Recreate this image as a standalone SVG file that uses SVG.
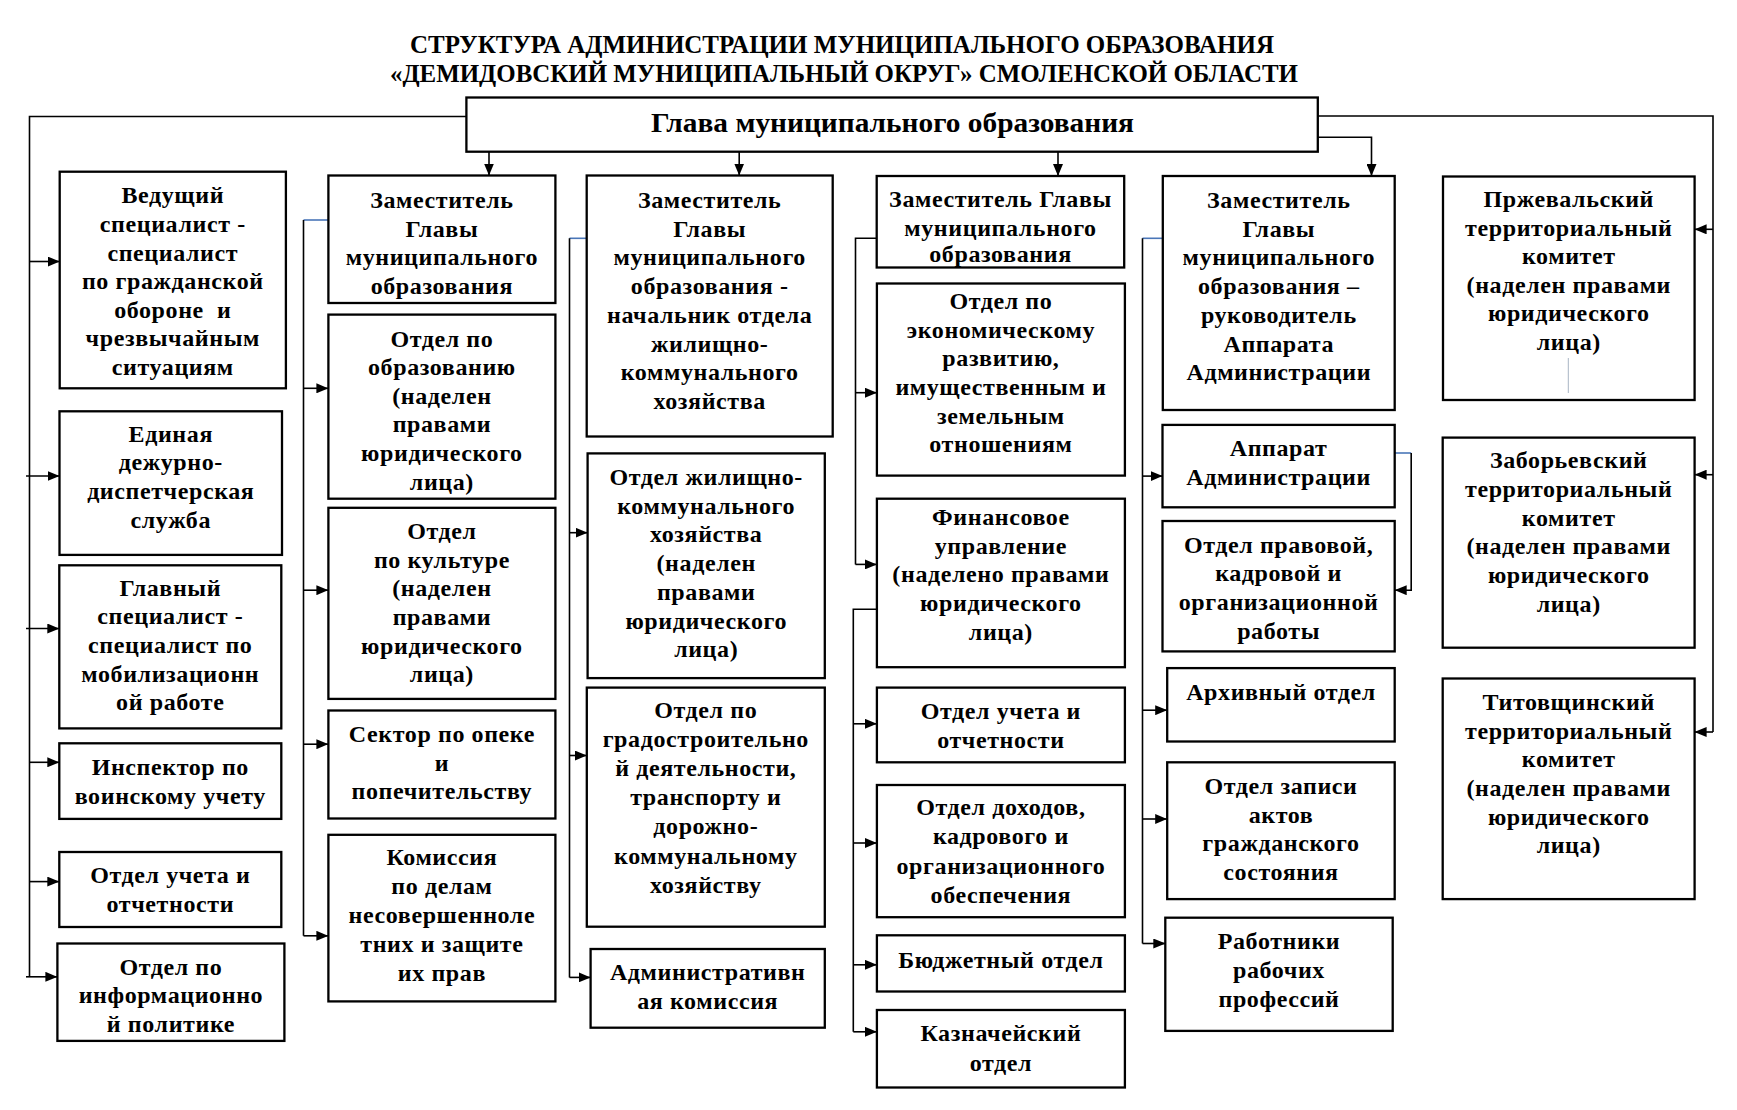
<svg xmlns="http://www.w3.org/2000/svg" width="1737" height="1110" viewBox="0 0 1737 1110">
<style>
.b{fill:#fff;stroke:#000;stroke-width:2.3}
.t{font-family:"Liberation Serif","Times New Roman",serif;font-weight:bold;font-size:24px;text-anchor:middle;letter-spacing:0.6px;fill:#000}
.h{font-family:"Liberation Serif","Times New Roman",serif;font-weight:bold;font-size:25px;text-anchor:middle;fill:#000}
.g{font-family:"Liberation Serif","Times New Roman",serif;font-weight:bold;font-size:27px;text-anchor:middle;fill:#000}
.c{fill:none;stroke:#000;stroke-width:1.6}
.s{fill:none;stroke:#4a76b8;stroke-width:1.6}
.a{fill:none;stroke:#000;stroke-width:1.6;marker-end:url(#ar)}
</style>
<defs>
<marker id="ar" markerUnits="userSpaceOnUse" markerWidth="12" markerHeight="10" refX="12" refY="5" orient="auto">
<path d="M0,0 L12,5 L0,10 z" fill="#000"/>
</marker>
</defs>
<rect width="1737" height="1110" fill="#fff"/>
<g id="title">
<text class="h" x="842" y="53" textLength="864" lengthAdjust="spacingAndGlyphs">СТРУКТУРА АДМИНИСТРАЦИИ МУНИЦИПАЛЬНОГО ОБРАЗОВАНИЯ</text>
<text class="h" x="844" y="81.5" textLength="908" lengthAdjust="spacingAndGlyphs">«ДЕМИДОВСКИЙ МУНИЦИПАЛЬНЫЙ ОКРУГ» СМОЛЕНСКОЙ ОБЛАСТИ</text>
</g>
<g id="connectors">
<polyline class="c" points="466.4,116.5 29.5,116.5 29.5,977"/>
<polyline class="c" points="1318,116 1713,116 1713,732"/>
<line class="a" x1="489" y1="151.7" x2="489" y2="175.5"/>
<line class="a" x1="739.2" y1="151.7" x2="739.2" y2="175.5"/>
<line class="a" x1="1058" y1="151.7" x2="1058" y2="176"/>
<polyline class="a" points="1318,137.3 1371.5,137.3 1371.5,176"/>
<line class="a" x1="29.5" y1="261.5" x2="59.7" y2="261.5"/>
<line class="a" x1="26" y1="476" x2="59.5" y2="476"/>
<line class="a" x1="26" y1="628.5" x2="59.3" y2="628.5"/>
<line class="a" x1="29.5" y1="762.3" x2="59.3" y2="762.3"/>
<line class="a" x1="29.5" y1="881.6" x2="59.3" y2="881.6"/>
<line class="a" x1="26" y1="976.8" x2="57.4" y2="976.8"/>
<line class="a" x1="1713" y1="229.3" x2="1694.6" y2="229.3"/>
<line class="a" x1="1713" y1="474.7" x2="1694.6" y2="474.7"/>
<line class="a" x1="1713" y1="732" x2="1694.6" y2="732"/>
<line class="s" x1="328.4" y1="220" x2="303.5" y2="220"/>
<line class="c" x1="303.5" y1="220" x2="303.5" y2="935.8"/>
<line class="a" x1="303.5" y1="388.3" x2="328.4" y2="388.3"/>
<line class="a" x1="303.5" y1="590.2" x2="328.4" y2="590.2"/>
<line class="a" x1="303.5" y1="744.2" x2="328.4" y2="744.2"/>
<line class="a" x1="303.5" y1="935.8" x2="328.4" y2="935.8"/>
<line class="s" x1="586.7" y1="238.3" x2="569.5" y2="238.3"/>
<line class="c" x1="569.5" y1="238.3" x2="569.5" y2="977.4"/>
<line class="a" x1="569.5" y1="532.7" x2="587.6" y2="532.7"/>
<line class="a" x1="569.5" y1="755.5" x2="586.8" y2="755.5"/>
<line class="a" x1="569.5" y1="977.4" x2="590.6" y2="977.4"/>
<polyline class="c" points="876.7,238.3 855.5,238.3 855.5,564.4"/>
<line class="a" x1="855.5" y1="392.7" x2="876.9" y2="392.7"/>
<line class="a" x1="855.5" y1="564.4" x2="876.9" y2="564.4"/>
<polyline class="c" points="876.9,609.2 853.3,609.2 853.3,1031.8"/>
<line class="a" x1="853.3" y1="723.8" x2="876.9" y2="723.8"/>
<line class="a" x1="853.3" y1="843" x2="876.9" y2="843"/>
<line class="a" x1="853.3" y1="964.8" x2="876.9" y2="964.8"/>
<line class="a" x1="853.3" y1="1031.8" x2="876.9" y2="1031.8"/>
<line class="s" x1="1162.8" y1="238.3" x2="1142.5" y2="238.3"/>
<line class="c" x1="1142.5" y1="238.3" x2="1142.5" y2="943.5"/>
<line class="a" x1="1142.5" y1="476.1" x2="1162.5" y2="476.1"/>
<line class="a" x1="1142.5" y1="710.2" x2="1167.2" y2="710.2"/>
<line class="a" x1="1142.5" y1="819" x2="1167.2" y2="819"/>
<line class="a" x1="1142.5" y1="943.5" x2="1165.3" y2="943.5"/>
<line class="s" x1="1394.7" y1="453" x2="1411.2" y2="453"/>
<polyline class="a" points="1411.2,453 1411.2,590.2 1394.7,590.2"/>
</g>
<g id="glava"><rect class="b" x="466.4" y="97.5" width="851.4" height="54.2"/>
<text class="g" x="892.5" y="132" textLength="483" lengthAdjust="spacingAndGlyphs">Глава муниципального образования</text></g>
<g id="n1"><rect class="b" x="59.7" y="171.7" width="226.2" height="216.6"/>
<text class="t"><tspan x="172.8" y="203.3">Ведущий</tspan><tspan x="172.8" y="231.9">специалист -</tspan><tspan x="172.8" y="260.5">специалист</tspan><tspan x="172.8" y="289.1">по гражданской</tspan><tspan x="172.8" y="317.7" xml:space="preserve">обороне  и</tspan><tspan x="172.8" y="346.3">чрезвычайным</tspan><tspan x="172.8" y="374.9">ситуациям</tspan></text></g>
<g id="n2"><rect class="b" x="59.5" y="411.3" width="222.5" height="143.6"/>
<text class="t"><tspan x="170.8" y="441.8">Единая</tspan><tspan x="170.8" y="470.4">дежурно-</tspan><tspan x="170.8" y="499">диспетчерская</tspan><tspan x="170.8" y="527.6">служба</tspan></text></g>
<g id="n3"><rect class="b" x="59.3" y="565.3" width="222" height="163.1"/>
<text class="t"><tspan x="170.3" y="595.7">Главный</tspan><tspan x="170.3" y="624.3">специалист -</tspan><tspan x="170.3" y="652.9">специалист по</tspan><tspan x="170.3" y="681.5">мобилизационн</tspan><tspan x="170.3" y="710.1">ой работе</tspan></text></g>
<g id="n4"><rect class="b" x="59.3" y="743.3" width="222" height="75.6"/>
<text class="t"><tspan x="170.3" y="775">Инспектор по</tspan><tspan x="170.3" y="804">воинскому учету</tspan></text></g>
<g id="n5"><rect class="b" x="59.3" y="852" width="222" height="75"/>
<text class="t"><tspan x="170.3" y="882.7">Отдел учета и</tspan><tspan x="170.3" y="911.7">отчетности</tspan></text></g>
<g id="n6"><rect class="b" x="57.4" y="943.5" width="227" height="97.4"/>
<text class="t"><tspan x="170.9" y="974.6">Отдел по</tspan><tspan x="170.9" y="1003.2">информационно</tspan><tspan x="170.9" y="1031.5">й политике</tspan></text></g>
<g id="n7"><rect class="b" x="328.4" y="175.5" width="227" height="127.5"/>
<text class="t"><tspan x="441.9" y="208">Заместитель</tspan><tspan x="441.9" y="236.6">Главы</tspan><tspan x="441.9" y="265.2">муниципального</tspan><tspan x="441.9" y="293.8">образования</tspan></text></g>
<g id="n8"><rect class="b" x="328.4" y="314.6" width="227" height="184.1"/>
<text class="t"><tspan x="441.9" y="346.5">Отдел по</tspan><tspan x="441.9" y="375.1">образованию</tspan><tspan x="441.9" y="403.7">(наделен</tspan><tspan x="441.9" y="432.3">правами</tspan><tspan x="441.9" y="460.9">юридического</tspan><tspan x="441.9" y="489.5">лица)</tspan></text></g>
<g id="n9"><rect class="b" x="328.4" y="507.8" width="227" height="191.1"/>
<text class="t"><tspan x="441.9" y="539.2">Отдел</tspan><tspan x="441.9" y="567.8">по культуре</tspan><tspan x="441.9" y="596.4">(наделен</tspan><tspan x="441.9" y="625">правами</tspan><tspan x="441.9" y="653.6">юридического</tspan><tspan x="441.9" y="682.2">лица)</tspan></text></g>
<g id="n10"><rect class="b" x="328.4" y="710.5" width="227" height="108"/>
<text class="t"><tspan x="441.9" y="741.7">Сектор по опеке</tspan><tspan x="441.9" y="770.7">и</tspan><tspan x="441.9" y="799.3">попечительству</tspan></text></g>
<g id="n11"><rect class="b" x="328.4" y="834.8" width="227" height="166.6"/>
<text class="t"><tspan x="441.9" y="864.9">Комиссия</tspan><tspan x="441.9" y="894">по делам</tspan><tspan x="441.9" y="923.1">несовершенноле</tspan><tspan x="441.9" y="952.2">тних и защите</tspan><tspan x="441.9" y="981.3">их прав</tspan></text></g>
<g id="n12"><rect class="b" x="586.7" y="175.5" width="246" height="261"/>
<text class="t"><tspan x="709.7" y="208">Заместитель</tspan><tspan x="709.7" y="236.7">Главы</tspan><tspan x="709.7" y="265.4">муниципального</tspan><tspan x="709.7" y="294.1">образования -</tspan><tspan x="709.7" y="322.8">начальник отдела</tspan><tspan x="709.7" y="351.5">жилищно-</tspan><tspan x="709.7" y="380.2">коммунального</tspan><tspan x="709.7" y="408.9">хозяйства</tspan></text></g>
<g id="n13"><rect class="b" x="587.6" y="453.4" width="237.2" height="224.7"/>
<text class="t"><tspan x="706.2" y="485">Отдел жилищно-</tspan><tspan x="706.2" y="513.7">коммунального</tspan><tspan x="706.2" y="542.4">хозяйства</tspan><tspan x="706.2" y="571.1">(наделен</tspan><tspan x="706.2" y="599.8">правами</tspan><tspan x="706.2" y="628.5">юридического</tspan><tspan x="706.2" y="657.2">лица)</tspan></text></g>
<g id="n14"><rect class="b" x="586.8" y="687.6" width="238" height="239.1"/>
<text class="t"><tspan x="705.8" y="717.6">Отдел по</tspan><tspan x="705.8" y="746.8">градостроительно</tspan><tspan x="705.8" y="776">й деятельности,</tspan><tspan x="705.8" y="805.2">транспорту и</tspan><tspan x="705.8" y="834.4">дорожно-</tspan><tspan x="705.8" y="863.6">коммунальному</tspan><tspan x="705.8" y="892.8">хозяйству</tspan></text></g>
<g id="n15"><rect class="b" x="590.6" y="949" width="234.2" height="78.7"/>
<text class="t"><tspan x="707.7" y="980.1">Административн</tspan><tspan x="707.7" y="1009">ая комиссия</tspan></text></g>
<g id="n16"><rect class="b" x="876.7" y="176" width="247.5" height="91.5"/>
<text class="t"><tspan x="1000.5" y="207.3">Заместитель Главы</tspan><tspan x="1000.5" y="235.7">муниципального</tspan><tspan x="1000.5" y="261.5">образования</tspan></text></g>
<g id="n17"><rect class="b" x="876.9" y="283.5" width="248" height="192.1"/>
<text class="t"><tspan x="1000.9" y="308.8">Отдел по</tspan><tspan x="1000.9" y="337.5">экономическому</tspan><tspan x="1000.9" y="366.2">развитию,</tspan><tspan x="1000.9" y="394.9">имущественным и</tspan><tspan x="1000.9" y="423.6">земельным</tspan><tspan x="1000.9" y="452.3">отношениям</tspan></text></g>
<g id="n18"><rect class="b" x="876.9" y="498.7" width="248" height="168.5"/>
<text class="t"><tspan x="1000.9" y="524.8">Финансовое</tspan><tspan x="1000.9" y="553.5">управление</tspan><tspan x="1000.9" y="582.2">(наделено правами</tspan><tspan x="1000.9" y="610.9">юридического</tspan><tspan x="1000.9" y="639.6">лица)</tspan></text></g>
<g id="n19"><rect class="b" x="876.9" y="687.6" width="248" height="74.7"/>
<text class="t"><tspan x="1000.9" y="718.7">Отдел учета и</tspan><tspan x="1000.9" y="747.5">отчетности</tspan></text></g>
<g id="n20"><rect class="b" x="876.9" y="785" width="248" height="132.2"/>
<text class="t"><tspan x="1000.9" y="815.1">Отдел доходов,</tspan><tspan x="1000.9" y="844.3">кадрового и</tspan><tspan x="1000.9" y="873.5">организационного</tspan><tspan x="1000.9" y="902.7">обеспечения</tspan></text></g>
<g id="n21"><rect class="b" x="876.9" y="935.3" width="248" height="56.2"/>
<text class="t"><tspan x="1000.9" y="968">Бюджетный отдел</tspan></text></g>
<g id="n22"><rect class="b" x="876.9" y="1010" width="248" height="77.5"/>
<text class="t"><tspan x="1000.9" y="1041.1">Казначейский</tspan><tspan x="1000.9" y="1071">отдел</tspan></text></g>
<g id="n23"><rect class="b" x="1162.8" y="176" width="231.9" height="234"/>
<text class="t"><tspan x="1278.8" y="208">Заместитель</tspan><tspan x="1278.8" y="236.7">Главы</tspan><tspan x="1278.8" y="265.4">муниципального</tspan><tspan x="1278.8" y="294.1">образования –</tspan><tspan x="1278.8" y="322.8">руководитель</tspan><tspan x="1278.8" y="351.5">Аппарата</tspan><tspan x="1278.8" y="380.2">Администрации</tspan></text></g>
<g id="n24"><rect class="b" x="1162.5" y="424.9" width="232.2" height="82.4"/>
<text class="t"><tspan x="1278.6" y="456.2">Аппарат</tspan><tspan x="1278.6" y="485">Администрации</tspan></text></g>
<g id="n25"><rect class="b" x="1162.5" y="521" width="232.2" height="130.4"/>
<text class="t"><tspan x="1278.6" y="552.5">Отдел правовой,</tspan><tspan x="1278.6" y="581.2">кадровой и</tspan><tspan x="1278.6" y="609.9">организационной</tspan><tspan x="1278.6" y="638.6">работы</tspan></text></g>
<g id="n26"><rect class="b" x="1167.2" y="668.1" width="227.5" height="73.4"/>
<text class="t"><tspan x="1281" y="699.9">Архивный отдел</tspan></text></g>
<g id="n27"><rect class="b" x="1167.2" y="762.3" width="227.5" height="136.8"/>
<text class="t"><tspan x="1281" y="794">Отдел записи</tspan><tspan x="1281" y="822.7">актов</tspan><tspan x="1281" y="851.4">гражданского</tspan><tspan x="1281" y="880.1">состояния</tspan></text></g>
<g id="n28"><rect class="b" x="1165.3" y="917.7" width="227.4" height="113.2"/>
<text class="t"><tspan x="1279" y="949.1">Работники</tspan><tspan x="1279" y="977.8">рабочих</tspan><tspan x="1279" y="1006.5">профессий</tspan></text></g>
<g id="n29"><rect class="b" x="1443" y="176.5" width="251.6" height="223.5"/>
<text class="t"><tspan x="1568.8" y="207">Пржевальский</tspan><tspan x="1568.8" y="235.6">территориальный</tspan><tspan x="1568.8" y="264.2">комитет</tspan><tspan x="1568.8" y="292.8">(наделен правами</tspan><tspan x="1568.8" y="321.4">юридического</tspan><tspan x="1568.8" y="350">лица)</tspan></text>
<line x1="1568.3" y1="358" x2="1568.3" y2="393" stroke="#a8b4c4" stroke-width="1"/></g>
<g id="n30"><rect class="b" x="1442.7" y="437.6" width="251.9" height="210.1"/>
<text class="t"><tspan x="1568.7" y="468.3">Заборьевский</tspan><tspan x="1568.7" y="497">территориальный</tspan><tspan x="1568.7" y="525.7">комитет</tspan><tspan x="1568.7" y="554.4">(наделен правами</tspan><tspan x="1568.7" y="583.1">юридического</tspan><tspan x="1568.7" y="611.8">лица)</tspan></text></g>
<g id="n31"><rect class="b" x="1442.7" y="678.5" width="251.9" height="220.6"/>
<text class="t"><tspan x="1568.7" y="709.8">Титовщинский</tspan><tspan x="1568.7" y="738.5">территориальный</tspan><tspan x="1568.7" y="767.2">комитет</tspan><tspan x="1568.7" y="795.9">(наделен правами</tspan><tspan x="1568.7" y="824.6">юридического</tspan><tspan x="1568.7" y="853.3">лица)</tspan></text></g>
</svg>
